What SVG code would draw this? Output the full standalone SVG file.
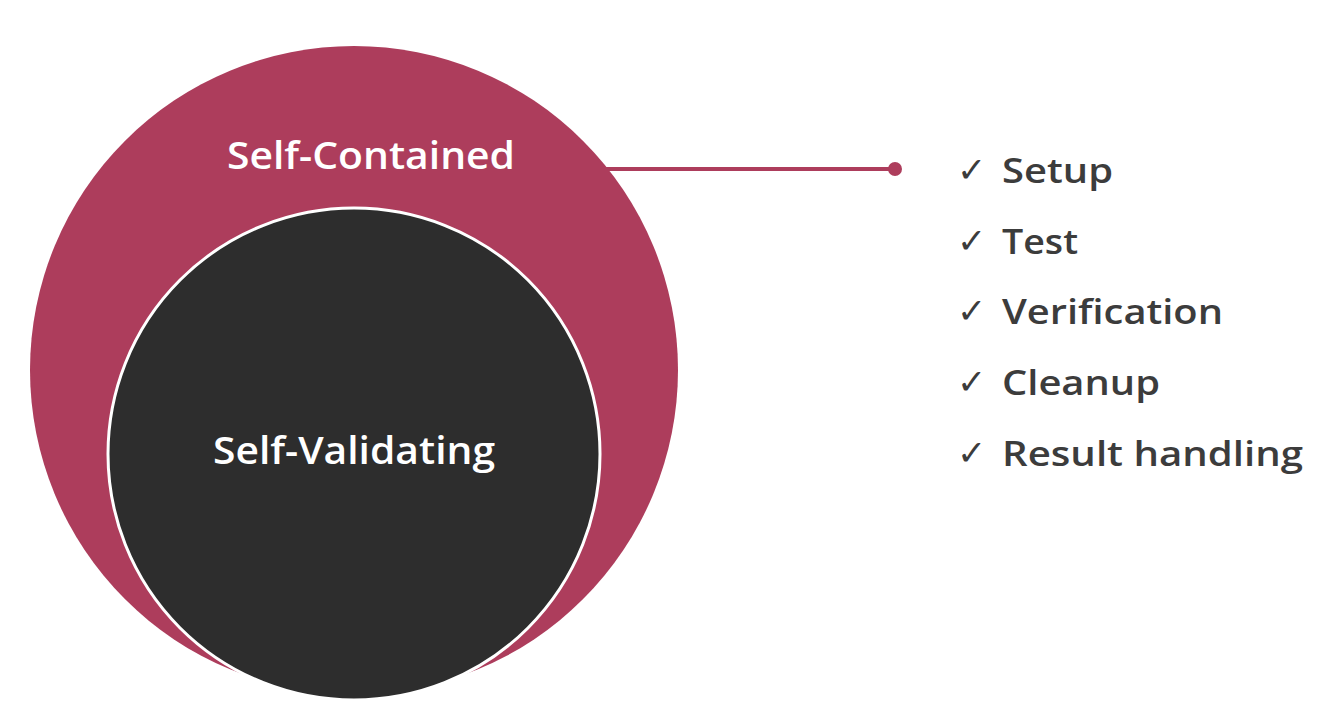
<svg xmlns="http://www.w3.org/2000/svg" width="1320" height="718" viewBox="0 0 1320 718">
<style>
.title{font-family:"Open Sans","Liberation Sans",sans-serif;font-weight:600;font-size:37px;fill:#ffffff;text-anchor:middle}
.item{font-family:"Open Sans","Liberation Sans",sans-serif;font-weight:600;font-size:34px;fill:#3c3c3c}
.chk{font-family:"DejaVu Sans",sans-serif;font-size:35px;fill:#3c3c3c}
.conn{stroke:#ad3d5c;stroke-width:4;fill:none}
</style>
<rect width="1320" height="718" fill="#ffffff"/>
<g id="self-contained">
<circle cx="354" cy="370" r="324" fill="#ad3d5c"/>
<text class="title" x="371" y="169" textLength="288" lengthAdjust="spacingAndGlyphs">Self-Contained</text>
</g>
<g id="self-validating">
<circle cx="354" cy="454" r="246" fill="#2d2d2d" stroke="#ffffff" stroke-width="3"/>
<text class="title" x="354" y="464" textLength="282" lengthAdjust="spacingAndGlyphs">Self-Validating</text>
</g>
<g id="connectors">
<line class="conn" x1="606" y1="169" x2="895" y2="169"/>
<circle cx="895" cy="169" r="7" fill="#ad3d5c"/>
</g>
<g id="checklist">
<text class="chk" x="957" y="182">✓</text>
<text class="item" x="1002" y="183" textLength="111" lengthAdjust="spacingAndGlyphs">Setup</text>
<text class="chk" x="957" y="253">✓</text>
<text class="item" x="1002" y="254" textLength="76" lengthAdjust="spacingAndGlyphs">Test</text>
<text class="chk" x="957" y="323">✓</text>
<text class="item" x="1002" y="324" textLength="221" lengthAdjust="spacingAndGlyphs">Verification</text>
<text class="chk" x="957" y="394">✓</text>
<text class="item" x="1002" y="395" textLength="158" lengthAdjust="spacingAndGlyphs">Cleanup</text>
<text class="chk" x="957" y="465">✓</text>
<text class="item" x="1002" y="466" textLength="301" lengthAdjust="spacingAndGlyphs">Result handling</text>
</g>
</svg>
